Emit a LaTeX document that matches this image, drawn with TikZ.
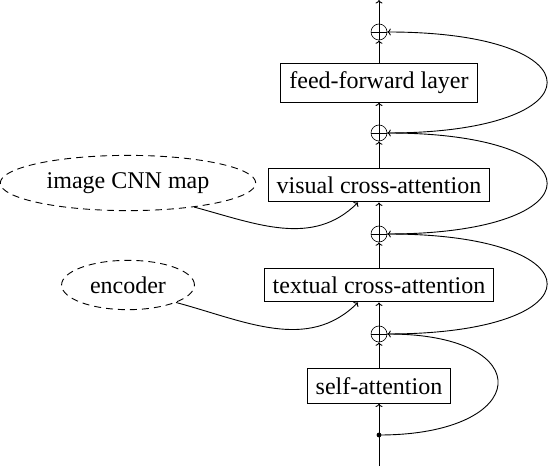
\documentclass[tikz,border=0pt]{standalone}
\usepackage{fontspec}
\setmainfont{Liberation Serif}
\usetikzlibrary{shapes.geometric,arrows.meta}
\begin{document}
\begin{tikzpicture}[>={To[length=3.5pt,width=7pt]},x=1pt,y=1pt,line width=0.9pt,
    blk/.style={draw,inner sep=8.5pt,font=\fontsize{24}{28}\selectfont},
    src/.style={draw,ellipse,dash pattern=on 7pt off 5pt,inner sep=9pt,%
      font=\fontsize{24}{28}\selectfont},
    addnode/.style={circle,draw,line width=0.6pt,minimum size=16pt,inner sep=0pt,%
      path picture={\draw[line width=0.6pt] (path picture bounding box.north)--%
      (path picture bounding box.south) (path picture bounding box.west)--%
      (path picture bounding box.east);}}]
    \useasboundingbox (0,0) rectangle (548,466);
    % main column
    \coordinate (in) at (379,0);
    \coordinate (out) at (379,466);
    \fill (379,31) circle (2.4pt) coordinate (split);
    \node[blk] (self) at (379,80) {self-attention};
    \node[addnode] (add4) at (379,132) {};
    \node[blk] (text) at (379,181) {textual cross-attention};
    \node[addnode] (add3) at (379,232) {};
    \node[blk] (vis) at (379,281) {visual cross-attention};
    \node[addnode] (add2) at (379,333) {};
    \node[blk] (ff) at (379,383.5) {feed-forward layer};
    \node[addnode] (add1) at (379,434) {};
    % inputs
    \node[src] (enc) at (128,181) {encoder};
    \node[src] (img) at (128,283) {image CNN map};
    \draw[->] (in)--(self.south);
    \draw[->] (self)--(add4);
    \draw[->] (add4)--(text);
    \draw[->] (text)--(add3);
    \draw[->] (add3)--(vis);
    \draw[->] (vis)--(add2);
    \draw[->] (add2)--(ff);
    \draw[->] (ff)--(add1);
    \draw[->] (add1)--(out);
    % residuals
    \draw[->] (split) .. controls +(153,0) and +(153,0) .. (add4.east);
    \draw[->] (add4.east) .. controls +(213,0) and +(213,0) .. (add3.east);
    \draw[->] (add3.east) .. controls +(213,0) and +(213,0) .. (add2.east);
    \draw[->] (add2.east) .. controls +(213,0) and +(213,0) .. (add1.east);
    % cross-attention inputs
    \draw[->] (enc.-20) to[out=-15,in=-135] ([xshift=-21pt]text.south);
    \draw[->] (img.-20) to[out=-15,in=-135] ([xshift=-21pt]vis.south);
\end{tikzpicture}
\end{document}
